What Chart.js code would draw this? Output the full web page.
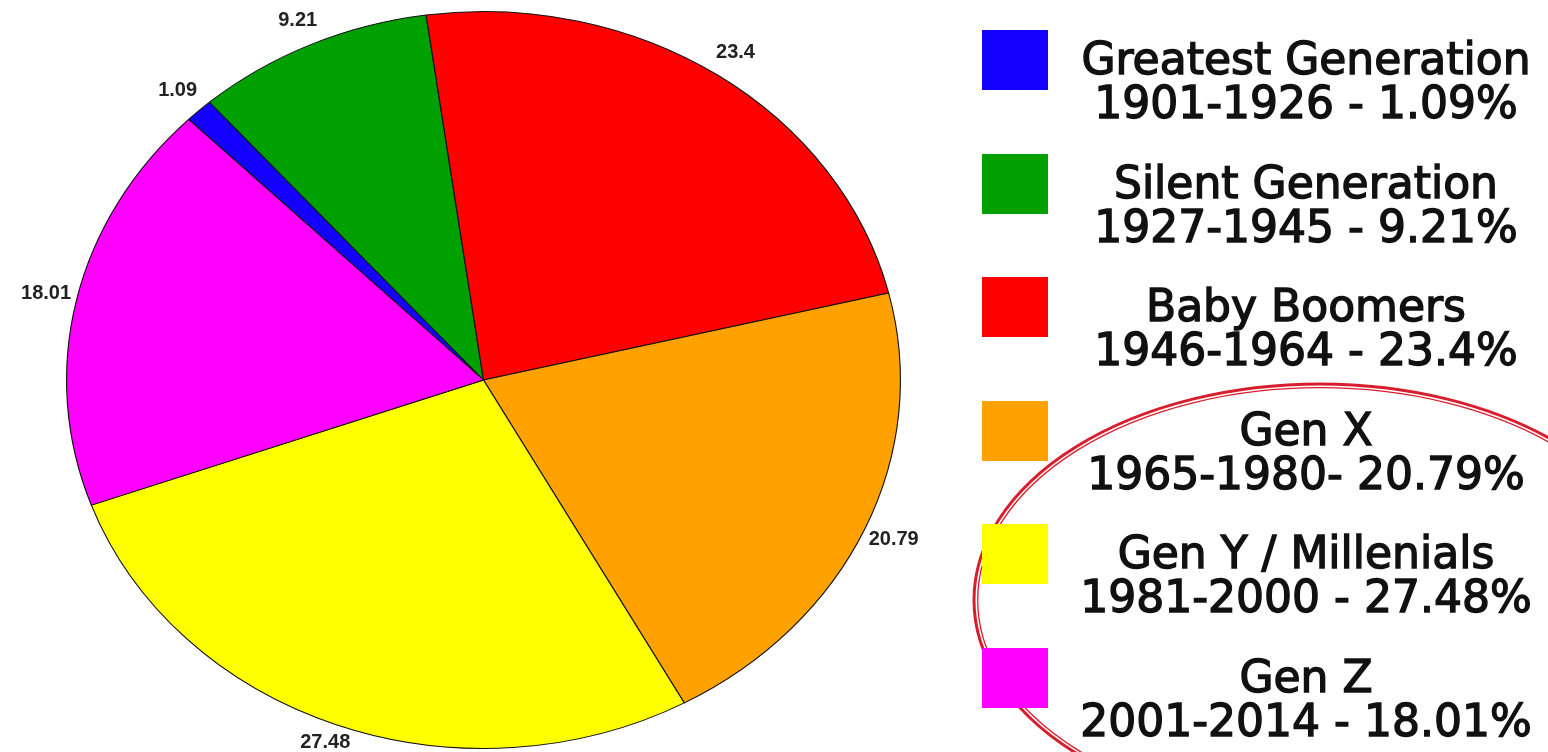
<!DOCTYPE html>
<html>
<head>
<meta charset="utf-8">
<script src="https://cdn.jsdelivr.net/npm/chart.js@4.4.0/dist/chart.umd.min.js"></script>
<style>
html, body { margin: 0; padding: 0; background: #fff; }
#wrap { position: relative; width: 1548px; height: 752px; overflow: hidden; }
#pie { position: absolute; left: 0; top: 0; }
.legend-row { position: absolute; left: 982px; width: 566px; height: 110px; }
.swatch { position: absolute; left: 0; top: 0; width: 66px; height: 60px; }
.legend-text {
	position: absolute; left: 82px; right: 0; top: 7px;
	text-align: center; color: #111;
	font-family: "DejaVu Sans", sans-serif; font-weight: 400;
	-webkit-text-stroke: 1.4px #111;
	font-size: 44px; line-height: 44px; white-space: nowrap;
}
</style>
</head>
<body>
<div id="wrap">
	<canvas id="pie" width="1548" height="752"></canvas>
	<div id="legend"></div>
</div>
<script>
// generation shares (%)
const generations = ['Greatest Generation', 'Silent Generation', 'Baby Boomers', 'Gen X', 'Gen Y / Millenials', 'Gen Z'];
const yearLines = ['1901-1926 - 1.09%', '1927-1945 - 9.21%', '1946-1964 - 23.4%', '1965-1980- 20.79%', '1981-2000 - 27.48%', '2001-2014 - 18.01%'];
const shares = [1.09, 9.21, 23.4, 20.79, 27.48, 18.01];
const sliceColors = ['#1400ff', '#00a000', '#ff0000', '#ffa200', '#ffff00', '#ff00ff'];

const X_STRETCH = 417.5 / 369; // pie in the picture is a bit wider than tall
const LABEL_DIST = 1.075;

(function(){
	// --- legend (html) ---
	const legend = document.getElementById('legend');
	generations.forEach((name, i) => {
		const row = document.createElement('div');
		row.className = 'legend-row';
		row.style.top = (30 + i * 123.6) + 'px';
		row.innerHTML = `<div class="swatch" style="background:${sliceColors[i]}"></div>` +
			`<div class="legend-text">${name}<br>${yearLines[i]}</div>`;
		legend.appendChild(row);
	});

	// stretch the pie horizontally around its centre
	const stretchPlugin = {
		id: 'stretch',
		beforeDatasetsDraw(chart){
			const arc = chart.getDatasetMeta(0).data[0];
			const ctx = chart.ctx;
			ctx.save();
			ctx.translate(arc.x, 0);
			ctx.scale(X_STRETCH, 1);
			ctx.translate(-arc.x, 0);
		},
		afterDatasetsDraw(chart){ chart.ctx.restore(); }
	};

	// value labels outside each slice + the red marker ellipse
	const labelPlugin = {
		id: 'valueLabels',
		afterDraw(chart){
			const ctx = chart.ctx;
			ctx.save();
			ctx.font = 'bold 20px "Liberation Sans", Arial, sans-serif';
			ctx.fillStyle = '#222';
			ctx.textAlign = 'center';
			ctx.textBaseline = 'middle';
			chart.getDatasetMeta(0).data.forEach((arc, i) => {
				const mid = (arc.startAngle + arc.endAngle) / 2;
				const r = arc.outerRadius * LABEL_DIST;
				const x = arc.x + Math.cos(mid) * r * X_STRETCH;
				const y = Math.min(Math.max(arc.y + Math.sin(mid) * r, 20), 742);
				ctx.fillText(String(shares[i]), x, y);
			});

			// hand-drawn red circle around the last legend entries
			ctx.strokeStyle = '#d81e2c';
			ctx.lineWidth = 3;
			ctx.beginPath();
			ctx.ellipse(1320, 600, 346, 216, 0, 0, Math.PI * 2);
			ctx.stroke();
			ctx.lineWidth = 1.3;
			ctx.beginPath();
			ctx.ellipse(1320, 600, 342.3, 212.3, 0, 0, Math.PI * 2);
			ctx.stroke();
			ctx.restore();
		}
	};

	new Chart(document.getElementById('pie').getContext('2d'), {
		type: 'pie',
		data: {
			labels: generations,
			datasets: [{
				data: shares,
				backgroundColor: sliceColors,
				borderColor: '#111',
				borderWidth: 1
			}]
		},
		options: {
			responsive: false,
			animation: false,
			rotation: -45,
			layout: { padding: { left: 114.5, right: 695.5, top: 11, bottom: 3 } },
			plugins: {
				legend: { display: false },
				tooltip: { enabled: false }
			}
		},
		plugins: [stretchPlugin, labelPlugin]
	});
})();
</script>
</body>
</html>
